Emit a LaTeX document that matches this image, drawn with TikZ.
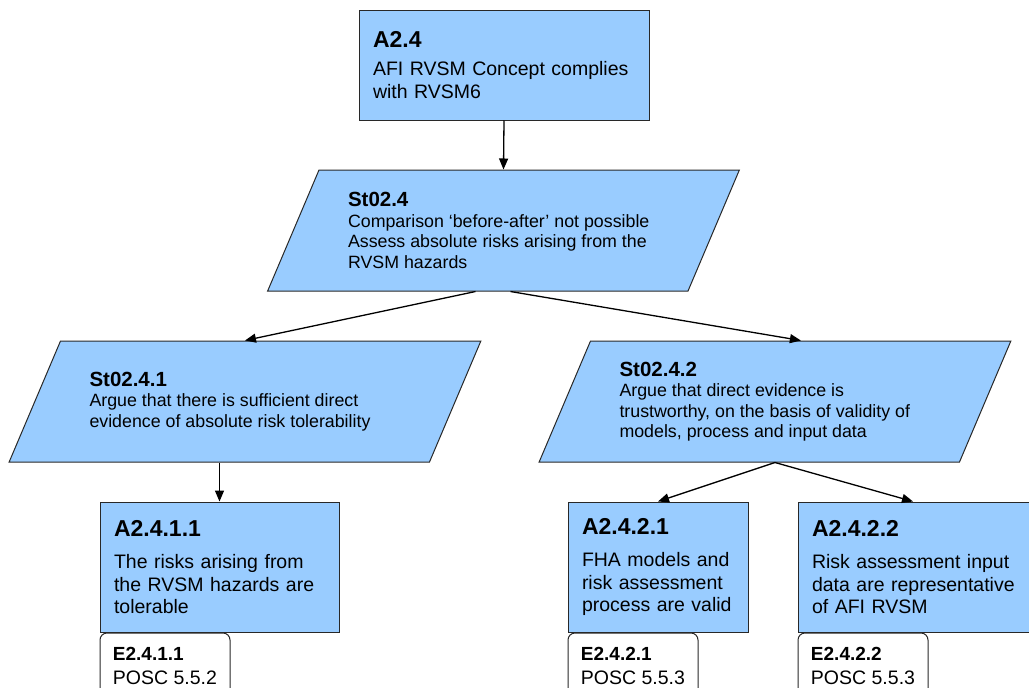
\documentclass[tikz,border=0pt]{standalone}
\usepackage{fontspec}
\setmainfont{Liberation Sans}
\usetikzlibrary{positioning, arrows.meta, shapes.geometric}
\definecolor{gblue}{RGB}{153,204,255}
\definecolor{gline}{RGB}{40,40,40}
\newcommand{\headA}{\bfseries\fontsize{23}{26}\selectfont}
\newcommand{\bodyA}{\fontsize{19.5}{22.5}\selectfont}
\newcommand{\headS}{\bfseries\fontsize{20.5}{20.5}\selectfont}
\newcommand{\bodyS}{\fontsize{17.8}{20.5}\selectfont}
\newcommand{\headE}{\bfseries\fontsize{19}{24}\selectfont}
\newcommand{\bodyE}{\fontsize{19.5}{24}\selectfont}
\newcommand{\stpar}[1]{\parbox[c][121pt][c]{311pt}{#1}}

\begin{document}
\begin{tikzpicture}[x=1pt, y=-1pt,
    goal/.style={rectangle, draw=gline, fill=gblue, line width=1pt, inner xsep=14pt, inner ysep=0pt, align=left, font=\bodyA},
    strat/.style={trapezium, trapezium left angle=67, trapezium right angle=113, draw=gline, fill=gblue, line width=1pt, inner xsep=29pt, inner ysep=0pt, font=\bodyS},
    evid/.style={rectangle, rounded corners=7pt, draw=gline, fill=white, line width=1pt, inner sep=0pt, minimum width=130pt, minimum height=66pt, align=left, font=\bodyE},
    conn/.style={-{Triangle[length=11pt, width=9pt]}, line width=1.3pt}]

        % page
        \clip (0,0) rectangle (1029,688);

        % top goal
        \node[goal, text width=262pt, minimum height=110pt] (a24) at (504,65)
            {{\headA A2.4}\\[6pt]AFI RVSM Concept complies\\with RVSM6};

        % strategies
        \node[strat] (st24) at (503.5,230.5)
            {\stpar{{\headS St02.4}\\Comparison `before-after' not possible\\Assess absolute risks arising from the\\RVSM hazards}};
        \node[strat] (st241) at (245,401.5)
            {\stpar{{\headS St02.4.1}\\Argue that there is sufficient direct\\evidence of absolute risk tolerability}};
        \node[strat] (st242) at (775,401.5)
            {\stpar{{\headS St02.4.2}\\Argue that direct evidence is\\trustworthy, on the basis of validity of\\models, process and input data}};

        % sub goals
        \node[goal, text width=211pt, minimum height=130pt] (a2411) at (219.5,567)
            {{\headA A2.4.1.1}\\[10pt]The risks arising from\\the RVSM hazards are\\tolerable};
        \node[goal, text width=152pt, minimum height=130pt] (a2421) at (658,567)
            {{\headA A2.4.2.1}\\[10pt]FHA models and\\risk assessment\\process are valid};
        \node[goal, text width=212pt, minimum height=130pt] (a2422) at (918,567)
            {{\headA A2.4.2.2}\\[10pt]Risk assessment input\\data are representative\\of AFI RVSM};

        % evidence
        \node[evid, below right=0pt and 0pt of a2411.south west] (e2411)
            {{\headE E2.4.1.1}\\POSC 5.5.2};
        \node[evid, below right=0pt and 0pt of a2421.south west] (e2421)
            {{\headE E2.4.2.1}\\POSC 5.5.3};
        \node[evid, below right=0pt and 0pt of a2422.south west] (e2422)
            {{\headE E2.4.2.2}\\POSC 5.5.3};

        % links
        \draw[conn] (a24.south) -- (st24.north);
        \draw[conn] ([xshift=-28pt]st24.south) -- (st241.north);
        \draw[conn] ([xshift=7pt]st24.south) -- (st242.top side);
        \draw[conn] (a2411.north |- st241.south) -- (a2411.north);
        \draw[conn] (st242.south) -- (a2421.north);
        \draw[conn] (st242.south) -- ([xshift=-5pt]a2422.north);
\end{tikzpicture}
\end{document}
